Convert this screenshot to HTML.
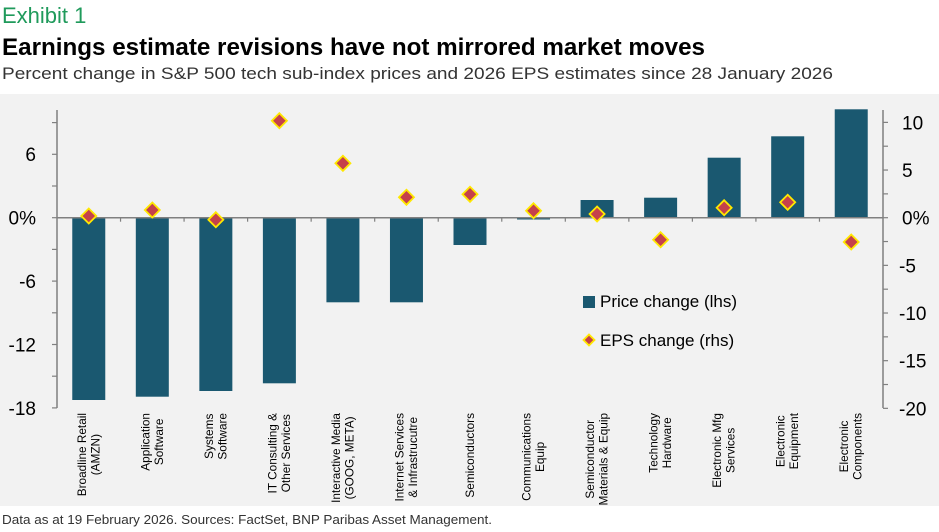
<!DOCTYPE html>
<html><head><meta charset="utf-8"><style>
html,body{margin:0;padding:0;background:#fff;}
svg{display:block;font-family:"Liberation Sans",sans-serif;}
</style></head><body>
<svg id="s" width="939" height="532" viewBox="0 0 939 532" xmlns="http://www.w3.org/2000/svg">
<text x="2" y="23" font-size="22" fill="#1f9a5b">Exhibit 1</text>
<text x="2" y="55" font-size="24" font-weight="bold" fill="#000" textLength="703" lengthAdjust="spacingAndGlyphs">Earnings estimate revisions have not mirrored market moves</text>
<text x="2" y="79" font-size="17" fill="#333" textLength="831" lengthAdjust="spacingAndGlyphs">Percent change in S&amp;P 500 tech sub-index prices and 2026 EPS estimates since 28 January 2026</text>
<rect x="0" y="94" width="939" height="412" fill="#f2f2f2"/>
<text x="2" y="524" font-size="13" fill="#333" textLength="490" lengthAdjust="spacingAndGlyphs">Data as at 19 February 2026. Sources: FactSet, BNP Paribas Asset Management.</text>
<g id="g"></g>
</svg>
<script>
const NS="http://www.w3.org/2000/svg",g=document.getElementById('g');
function el(t,a,txt){const e=document.createElementNS(NS,t);for(const k in a)e.setAttribute(k,a[k]);if(txt!=null)e.textContent=txt;g.appendChild(e);return e;}
const Z=217.7,ax="#808080";
const bars=[400,396.7,391,383.3,302.3,302.3,245,219.5,200,197.7,157.7,136.3,109.3];
const eps=[216,210,219.7,120.7,163.3,197.3,194.3,210.7,214,239.7,207.7,202.3,242];
const labs=[["Broadline Retail","(AMZN)"],["Application","Software"],["Systems","Software"],["IT Consulting &","Other Services"],["Interactive Media","(GOOG, META)"],["Internet Services","& Infrastrucutre"],["Semiconductors"],["Communications","Equip"],["Semiconductor","Materials & Equip"],["Technology","Hardware"],["Electronic Mfg","Services"],["Electronic","Equipment"],["Electronic","Components"]];
const step=(883-57)/13;
el('line',{x1:57,y1:110,x2:57,y2:408,stroke:ax,'stroke-width':1.5});
el('line',{x1:883,y1:110,x2:883,y2:408,stroke:ax,'stroke-width':1.5});
for(let k=-6;k<=3;k++){const y=Z-k*31.7;el('line',{x1:52,y1:y,x2:57,y2:y,stroke:ax,'stroke-width':1.2});}
[[6,154],[0,217.7],[-6,281.1],[-12,344.5],[-18,407.8]].forEach(([v,y])=>el('text',{x:36,y:y+7,'font-size':19,'text-anchor':'end',fill:'#000'},v===0?'0%':String(v)));
for(let k=-8;k<=4;k++){const y=Z-k*23.83;el('line',{x1:883,y1:y,x2:888,y2:y,stroke:ax,'stroke-width':1.2});}
[[10,122.4],[5,170],[0,217.7],[-5,265.4],[-10,313],[-15,360.7],[-20,408.4]].forEach(([v,y])=>el('text',{x:v<0?899:902,y:y+7,'font-size':19,fill:'#000'},v===0?'0%':String(v)));
bars.forEach((b,i)=>{const c=57+step*(i+0.5);const t=Math.min(b,Z),h=Math.abs(b-Z);el('rect',{x:c-16.5,y:t,width:33,height:Math.max(h,1),fill:'#1a5870'});});
el('line',{x1:57,y1:Z,x2:883,y2:Z,stroke:ax,'stroke-width':1.5});
for(let i=1;i<13;i++){const x=57+step*i;el('line',{x1:x,y1:Z,x2:x,y2:Z+4,stroke:ax,'stroke-width':1.2});}
function dia(cx,cy,r){el('polygon',{points:`${cx},${cy-r} ${cx+r},${cy} ${cx},${cy+r} ${cx-r},${cy}`,fill:'#c5414b',stroke:'#ffe800','stroke-width':1.8});}
eps.forEach((y,i)=>dia(57+step*(i+0.5),y,7.5));
labs.forEach((L,i)=>{const c=57+step*(i+0.5);const ts=[];
 const xs=L.length===1?[c+4]:[c-3,c+10.5];
 L.forEach((s,j)=>ts.push(el('text',{'font-size':11.8,fill:'#000','text-anchor':'middle',transform:`translate(${xs[j]},0) rotate(-90)`},s)));
 let m=0;ts.forEach(t=>m=Math.max(m,t.getComputedTextLength()));
 const cy=413+m/2;ts.forEach((t,j)=>t.setAttribute('transform',`translate(${xs[j]},${cy}) rotate(-90)`));
});
el('rect',{x:583,y:296,width:12,height:12,fill:'#1a5870'});
el('text',{x:600,y:307,'font-size':17,fill:'#000'},'Price change (lhs)');
dia(589,340,5.5);
el('text',{x:600,y:346,'font-size':17,fill:'#000'},'EPS change (rhs)');
</script>
</body></html>
